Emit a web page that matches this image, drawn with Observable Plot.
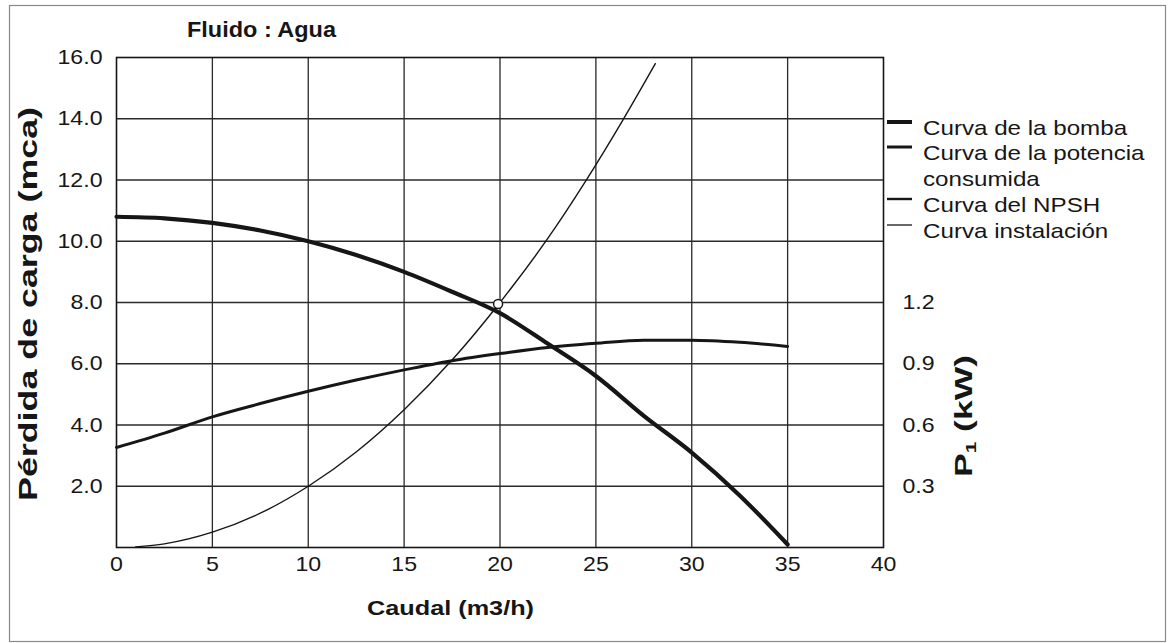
<!DOCTYPE html>
<html><head><meta charset="utf-8">
<script src="https://cdn.jsdelivr.net/npm/d3@7"></script>
<script src="https://cdn.jsdelivr.net/npm/@observablehq/plot@0.6"></script>
<style>body{margin:0;background:#fff} svg{display:block}</style>
</head><body><div id="chart"></div>
<script>
// Flow (m3/h)
const flowPump = [0, 2.5, 5, 7.5, 10, 12.5, 15, 17.5, 20, 22.5, 25, 27.5, 30, 32.5, 35];
// Pump head (mca)
const headPump = [10.8, 10.75, 10.6, 10.35, 10.0, 9.55, 9.0, 8.35, 7.65, 6.65, 5.6, 4.3, 3.1, 1.7, 0.1];
// Power consumed P1 (kW)
const flowPower = [0, 2.5, 5, 7.5, 10, 12.5, 15, 17.5, 20, 22.5, 25, 27.5, 30, 32.5, 35];
const powerKW = [0.49, 0.56, 0.64, 0.705, 0.765, 0.82, 0.87, 0.915, 0.95, 0.98, 1.0, 1.015, 1.015, 1.005, 0.985];
// Installation curve (mca)
const flowInst = [1, 2.5, 5, 7.5, 10, 12.5, 15, 17.5, 20, 22.5, 24.4, 26.4, 28.1];
const headInst = [0.02, 0.12, 0.5, 1.12, 2.0, 3.12, 4.5, 6.12, 8.0, 10.1, 11.9, 13.95, 15.8];
// Operating point
const opFlow = [19.9];
const opHead = [7.95];
// Ticks
const xTicks = [0, 5, 10, 15, 20, 25, 30, 35, 40];
const yTicks = [2, 4, 6, 8, 10, 12, 14, 16];
const kwTicks = [0.3, 0.6, 0.9, 1.2];
const kwPerMca = 0.15; // 1.2 kW aligned with 8.0 mca
const legendLabels = [["Curva de la bomba"], ["Curva de la potencia", "consumida"], ["Curva del NPSH"], ["Curva instalación"]];
const legendWidths = [4, 3, 2.4, 1.3];

const pump = flowPump.map((q, i) => ({q, h: headPump[i]}));
const power = flowPower.map((q, i) => ({q, p: powerKW[i]}));
const inst = flowInst.map((q, i) => ({q, h: headInst[i]}));
const op = opFlow.map((q, i) => ({q, h: opHead[i]}));

const ink = "#161616";
const font = "'Liberation Sans', Arial, sans-serif";
const chart = Plot.plot({
  width: 1168, height: 643,
  marginLeft: 116, marginRight: 285, marginTop: 57, marginBottom: 96,
  style: {fontFamily: font, fontSize: "21px", color: ink, background: "#fff"},
  x: {domain: [0, 40]},
  y: {domain: [0, 16]},
  marks: [
    Plot.gridX(xTicks.slice(1, -1), {stroke: "#2a2a2a", strokeOpacity: 1, strokeWidth: 1.3}),
    Plot.gridY(yTicks.slice(0, -1), {stroke: "#2a2a2a", strokeOpacity: 1, strokeWidth: 1.3}),
    Plot.frame({stroke: ink, strokeWidth: 1.6}),
    Plot.axisX(xTicks, {tickSize: 0, tickPadding: 9, label: null, tickFormat: d => String(d)}),
    Plot.axisY(yTicks, {tickSize: 0, tickPadding: 14, label: null, tickFormat: d => d.toFixed(1)}),
    Plot.axisY(kwTicks.map(k => k / kwPerMca), {anchor: "right", tickSize: 0, tickPadding: 19, label: null, tickFormat: d => (d * kwPerMca).toFixed(1)}),
    Plot.line(inst, {x: "q", y: "h", curve: "monotone-x", stroke: ink, strokeWidth: 1.4}),
    Plot.line(power, {x: "q", y: d => d.p / kwPerMca, curve: "monotone-x", stroke: ink, strokeWidth: 3}),
    Plot.line(pump, {x: "q", y: "h", curve: "monotone-x", stroke: ink, strokeWidth: 4.2}),
    Plot.dot(op, {x: "q", y: "h", r: 4.5, fill: "white", stroke: ink, strokeWidth: 1.5})
  ]
});
document.getElementById("chart").append(chart);

const svg = d3.select(chart);
// stretch tick labels slightly (wide letterforms of the original)
chart.querySelectorAll("text").forEach(t => {
  const L = t.getComputedTextLength();
  t.setAttribute("textLength", (L * 1.1).toFixed(1));
  t.setAttribute("lengthAdjust", "spacingAndGlyphs");
});

function label(txt, x, y, size, len, opts = {}) {
  return svg.append("text")
    .attr("x", x).attr("y", y)
    .attr("fill", ink)
    .attr("font-family", font)
    .attr("font-size", size)
    .attr("font-weight", opts.bold ? "bold" : "normal")
    .attr("text-anchor", opts.anchor || "start")
    .attr("transform", opts.transform || null)
    .attr("lengthAdjust", "spacingAndGlyphs")
    .attr("textLength", len)
    .text(txt);
}
// outer border
svg.append("rect").attr("x", 9.5).attr("y", 5.5).attr("width", 1156).attr("height", 636)
  .attr("fill", "none").attr("stroke", "#8a8a8a").attr("stroke-width", 1.2);

// title
label("Fluido : Agua", 187, 37, 22, 149, {bold: true});
// x label
label("Caudal (m3/h)", 367, 615, 21, 167, {bold: true});
// y label
label("Pérdida de carga (mca)", 0, 0, 25, 394, {bold: true, anchor: "middle", transform: "translate(37,304) rotate(-90)"});
// right label with subscript
const r = svg.append("text")
  .attr("transform", "translate(972,416) rotate(-90)")
  .attr("text-anchor", "middle").attr("fill", ink)
  .attr("font-family", font)
  .attr("font-size", 24).attr("font-weight", "bold")
  .attr("textLength", 122).attr("lengthAdjust", "spacingAndGlyphs");
r.append("tspan").text("P");
r.append("tspan").attr("font-size", 14).attr("baseline-shift", "-25%").text("1");
r.append("tspan").text(" (kW)");

// legend
const baselines = [[135], [160, 186], [212], [238]];
const widthFactor = 1.15;
legendLabels.forEach((lines, i) => {
  const yb = baselines[i][0];
  svg.append("line").attr("x1", 887).attr("x2", 912).attr("y1", yb - 13).attr("y2", yb - 13)
    .attr("stroke", ink).attr("stroke-width", legendWidths[i]);
  lines.forEach((s, j) => {
    const t = svg.append("text").attr("x", 923).attr("y", baselines[i][j]).attr("fill", ink)
      .attr("text-anchor", "start")
      .attr("font-family", font).attr("font-size", 21).text(s);
    const L = t.node().getComputedTextLength();
    t.attr("textLength", (L * widthFactor).toFixed(1)).attr("lengthAdjust", "spacingAndGlyphs");
  });
});
</script></body></html>
